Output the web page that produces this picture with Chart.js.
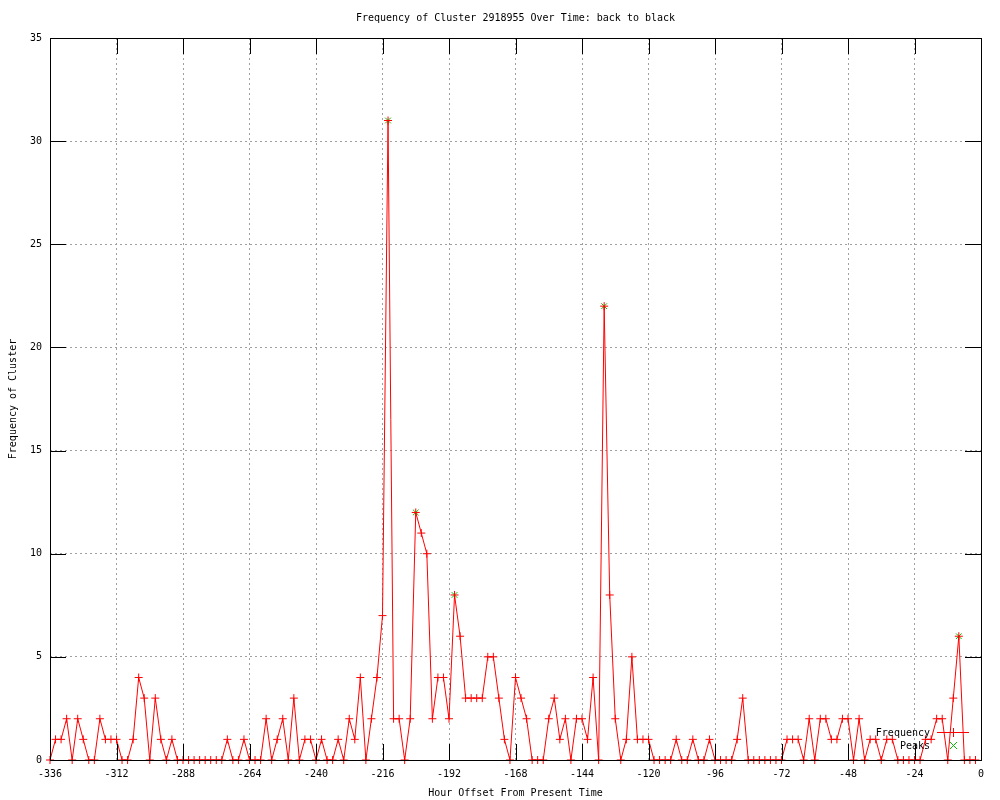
<!DOCTYPE html>
<html>
<head>
<meta charset="utf-8">
<title>Frequency of Cluster 2918955</title>
<script src="https://cdn.jsdelivr.net/npm/chart.js@4.4.1/dist/chart.umd.min.js"></script>
<style>
  html, body { margin: 0; padding: 0; background: #fff; }
</style>
</head>
<body>
<canvas id="clusterChart" width="1000" height="800"></canvas>
<script>
const chartTitle = 'Frequency of Cluster 2918955 Over Time: back to black';
const xTitle = 'Hour Offset From Present Time';
const yTitle = 'Frequency of Cluster';

// hour offsets of the samples (every 2 hours)
const hours = [
  -336, -334, -332, -330, -328, -326, -324, -322, -320, -318, -316, -314,
  -312, -310, -308, -306, -304, -302, -300, -298, -296, -294, -292, -290,
  -288, -286, -284, -282, -280, -278, -276, -274, -272, -270, -268, -266,
  -264, -262, -260, -258, -256, -254, -252, -250, -248, -246, -244, -242,
  -240, -238, -236, -234, -232, -230, -228, -226, -224, -222, -220, -218,
  -216, -214, -212, -210, -208, -206, -204, -202, -200, -198, -196, -194,
  -192, -190, -188, -186, -184, -182, -180, -178, -176, -174, -172, -170,
  -168, -166, -164, -162, -160, -158, -156, -154, -152, -150, -148, -146,
  -144, -142, -140, -138, -136, -134, -132, -130, -128, -126, -124, -122,
  -120, -118, -116, -114, -112, -110, -108, -106, -104, -102, -100, -98,
  -96, -94, -92, -90, -88, -86, -84, -82, -80, -78, -76, -74,
  -72, -70, -68, -66, -64, -62, -60, -58, -56, -54, -52, -50,
  -48, -46, -44, -42, -40, -38, -36, -34, -32, -30, -28, -26,
  -24, -22, -20, -18, -16, -14, -12, -10, -8, -6, -4, -2
];
const counts = [
  0, 1, 1, 2, 0, 2, 1, 0, 0, 2, 1, 1,
  1, 0, 0, 1, 4, 3, 0, 3, 1, 0, 1, 0,
  0, 0, 0, 0, 0, 0, 0, 0, 1, 0, 0, 1,
  0, 0, 0, 2, 0, 1, 2, 0, 3, 0, 1, 1,
  0, 1, 0, 0, 1, 0, 2, 1, 4, 0, 2, 4,
  7, 31, 2, 2, 0, 2, 12, 11, 10, 2, 4, 4,
  2, 8, 6, 3, 3, 3, 3, 5, 5, 3, 1, 0,
  4, 3, 2, 0, 0, 0, 2, 3, 1, 2, 0, 2,
  2, 1, 4, 0, 22, 8, 2, 0, 1, 5, 1, 1,
  1, 0, 0, 0, 0, 1, 0, 0, 1, 0, 0, 1,
  0, 0, 0, 0, 1, 3, 0, 0, 0, 0, 0, 0,
  0, 1, 1, 1, 0, 2, 0, 2, 2, 1, 1, 2,
  2, 0, 2, 0, 1, 1, 0, 1, 1, 0, 0, 0,
  0, 0, 1, 1, 2, 2, 0, 3, 6, 0, 0, 0
];
const peakHours = [-214, -204, -190, -136, -8];
const peakCounts = [31, 12, 8, 22, 6];

const xTicks = [-336, -312, -288, -264, -240, -216, -192, -168, -144, -120, -96, -72, -48, -24, 0];
const yTicks = [0, 5, 10, 15, 20, 25, 30, 35];

const FONT = 'DejaVu Sans Mono';
const RED = '#ff0000';
const GREEN = '#00c000';

// gnuplot-like frame: border, inward ticks, title, key
const gnuplotFrame = {
  id: 'gnuplotFrame',
  afterDatasetsDraw(chart) {
    const ctx = chart.ctx;
    const a = chart.chartArea;
    const xs = chart.scales.x, ys = chart.scales.y;
    const tl = 16;
    ctx.save();
    ctx.strokeStyle = '#000';
    ctx.lineWidth = 1;
    ctx.setLineDash([]);
    ctx.beginPath();
    xTicks.forEach(v => {
      const px = Math.round(xs.getPixelForValue(v)) + 0.5;
      ctx.moveTo(px, a.bottom); ctx.lineTo(px, a.bottom - tl);
      ctx.moveTo(px, a.top); ctx.lineTo(px, a.top + tl);
    });
    yTicks.forEach(v => {
      const py = Math.round(ys.getPixelForValue(v)) + 0.5;
      ctx.moveTo(a.left, py); ctx.lineTo(a.left + tl, py);
      ctx.moveTo(a.right, py); ctx.lineTo(a.right - tl, py);
    });
    ctx.stroke();
    ctx.strokeRect(Math.round(a.left) + 0.5, Math.round(a.top) + 0.5,
      Math.round(a.right - a.left), Math.round(a.bottom - a.top));
    ctx.restore();
  },
  afterDraw(chart) {
    const ctx = chart.ctx;
    const a = chart.chartArea;
    ctx.save();
    ctx.fillStyle = '#000';
    ctx.font = '10px "' + FONT + '"';
    ctx.textBaseline = 'middle';
    ctx.textAlign = 'center';
    ctx.fillText(chartTitle, (a.left + a.right) / 2, 18);

    // key
    ctx.textAlign = 'right';
    ctx.fillText('Frequency', 930, 733);
    ctx.fillText('Peaks', 930, 746);
    ctx.strokeStyle = RED;
    ctx.lineWidth = 1;
    ctx.beginPath();
    ctx.moveTo(937, 732.5); ctx.lineTo(969, 732.5);
    ctx.moveTo(953.5, 728); ctx.lineTo(953.5, 737);
    ctx.stroke();
    ctx.strokeStyle = GREEN;
    ctx.beginPath();
    ctx.moveTo(950, 742); ctx.lineTo(957, 749);
    ctx.moveTo(957, 742); ctx.lineTo(950, 749);
    ctx.stroke();
    ctx.restore();
  }
};

const freqData = hours.map((h, i) => ({ x: h, y: counts[i] }));
const peakData = peakHours.map((h, i) => ({ x: h, y: peakCounts[i] }));

new Chart(document.getElementById('clusterChart').getContext('2d'), {
  type: 'line',
  data: {
    datasets: [
      {
        label: 'Frequency', data: freqData,
        borderColor: RED, borderWidth: 1, backgroundColor: RED,
        pointStyle: 'cross', pointRadius: 4, pointBorderColor: RED, pointBorderWidth: 1,
        tension: 0, fill: false, clip: false
      },
      {
        label: 'Peaks', data: peakData, showLine: false,
        pointStyle: 'crossRot', pointRadius: 4, pointBorderColor: GREEN, pointBorderWidth: 1,
        borderColor: GREEN, backgroundColor: GREEN, clip: false
      }
    ]
  },
  options: {
    responsive: false,
    animation: false,
    layout: { padding: { top: 38, right: 19, left: 0, bottom: 0 } },
    plugins: { legend: { display: false }, title: { display: false }, tooltip: { enabled: false } },
    scales: {
      x: {
        type: 'linear', min: -336, max: 0,
        afterBuildTicks: s => { s.ticks = xTicks.map(v => ({ value: v })); },
        afterFit: s => { s.height = 40; },
        grid: { color: '#a0a0a0', lineWidth: 1, drawTicks: false },
        border: { display: false, dash: [2, 3] },
        ticks: { color: '#000', font: { family: FONT, size: 10 }, padding: 8, maxRotation: 0, autoSkip: false },
        title: { display: true, text: xTitle, color: '#000', font: { family: FONT, size: 10 }, padding: { top: 0, bottom: 1 } }
      },
      y: {
        type: 'linear', min: 0, max: 35,
        afterBuildTicks: s => { s.ticks = yTicks.map(v => ({ value: v })); },
        afterFit: s => { s.width = 50; },
        grid: { color: '#a0a0a0', lineWidth: 1, drawTicks: false },
        border: { display: false, dash: [2, 3] },
        ticks: { color: '#000', font: { family: FONT, size: 10 }, padding: 8 },
        title: { display: true, text: yTitle, color: '#000', font: { family: FONT, size: 10 }, padding: { top: 7, bottom: 0 } }
      }
    }
  },
  plugins: [gnuplotFrame]
});
</script>
</body>
</html>
